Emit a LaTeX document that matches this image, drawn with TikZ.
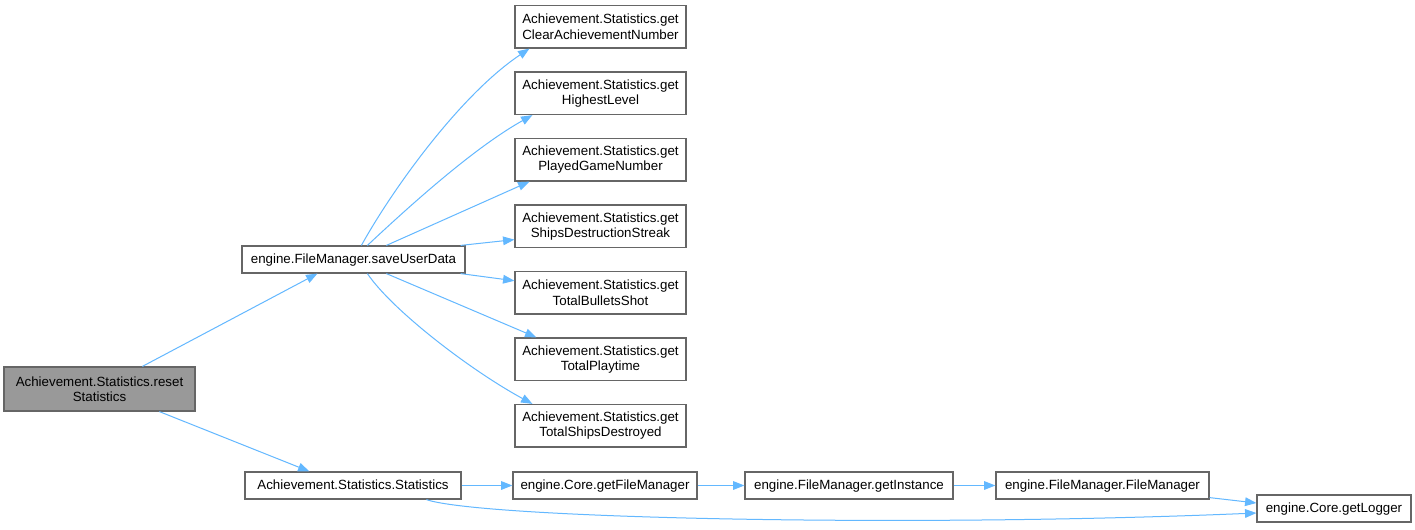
\documentclass[tikz,border=0pt]{standalone}
\usepackage{fontspec}
\setmainfont{Liberation Sans}
\usetikzlibrary{arrows.meta,calc}
\definecolor{edgeblue}{HTML}{63B8FF}
\definecolor{boxline}{HTML}{666666}
\definecolor{rootfill}{HTML}{999999}
\tikzset{
  box/.style={draw=boxline, fill=white, line width=0.9pt, inner sep=0pt, align=center,
    font=\fontsize{10}{11.5}\selectfont},
  twoline/.style={box, minimum width=128.25pt, minimum height=31.9pt},
  oneline/.style={box, minimum height=20.25pt, text height=7.2pt, text depth=1.8pt},
  conn/.style={draw=edgeblue, line width=0.75pt, -{Triangle[length=8.5pt,width=6.5pt]}}
}
\begin{document}
\begin{tikzpicture}[x=0.75pt,y=-0.75pt]
\useasboundingbox (0,0) rectangle (1415,529);
\fill[white] (0,0) rectangle (1415,529);
% nodes
\node[box, fill=rootfill, minimum width=143.25pt, minimum height=33pt] (reset) at (99.5,389) {Achievement.Statistics.reset\\Statistics};
\node[oneline, minimum width=167.25pt] (save) at (353.5,259.5) {engine.FileManager.saveUserData};
\node[twoline] (clear) at (600.5,26.75) {Achievement.Statistics.get\\ClearAchievementNumber};
\node[twoline] (high) at (600.5,93.25) {Achievement.Statistics.get\\HighestLevel};
\node[twoline] (played) at (600.5,159.75) {Achievement.Statistics.get\\PlayedGameNumber};
\node[twoline] (ships) at (600.5,226.25) {Achievement.Statistics.get\\ShipsDestructionStreak};
\node[twoline] (bullets) at (600.5,292.75) {Achievement.Statistics.get\\TotalBulletsShot};
\node[twoline] (playtime) at (600.5,359.25) {Achievement.Statistics.get\\TotalPlaytime};
\node[twoline] (destroyed) at (600.5,425.75) {Achievement.Statistics.get\\TotalShipsDestroyed};
\node[oneline, minimum width=162pt] (stat) at (353,485.5) {Achievement.Statistics.Statistics};
\node[oneline, minimum width=138pt] (getfm) at (605,485.5) {engine.Core.getFileManager};
\node[oneline, minimum width=156pt] (getinst) at (849,485.5) {engine.FileManager.getInstance};
\node[oneline, minimum width=159.75pt] (fm) at (1102.5,485.5) {engine.FileManager.FileManager};
\node[oneline, minimum width=115.5pt] (logger) at (1334,508.5) {engine.Core.getLogger};
% connectors
\draw[conn] ($(reset.north west)+(139,0)$) -- ($(save.south west)+(76,0)$);
\draw[conn] ($(reset.south west)+(156,0)$) -- ($(stat.north west)+(65,0)$);
\draw[conn] ($(save.north west)+(120,0)$) .. controls (392,190) and (460,95) .. ($(clear.south west)+(15,0)$);
\draw[conn] ($(save.north west)+(126,0)$) .. controls (400,215) and (470,150) .. ($(high.south west)+(18,0)$);
\draw[conn] ($(save.north west)+(145,0)$) -- ($(played.south west)+(15,0)$);
\draw[conn] ($(save.north east)+(-5,0)$) -- ($(ships.south west)+(0,-8.5)$);
\draw[conn] ($(save.south east)+(-5,0)$) -- ($(bullets.west)+(0,-12)$);
\draw[conn] ($(save.south west)+(145,0)$) -- ($(playtime.north west)+(22,0)$);
\draw[conn] ($(save.south west)+(126,0)$) .. controls (392,310) and (470,370) .. ($(destroyed.north west)+(18,0)$);
\draw[conn] (stat) -- (getfm);
\draw[conn] (getfm) -- (getinst);
\draw[conn] (getinst) -- (fm);
\draw[conn] ($(fm.south east)+(0,-2)$) -- ($(logger.west)+(0,-5.5)$);
\draw[conn] ($(stat.south west)+(182,0)$) .. controls (480,518) and (900,528) .. ($(logger.west)+(0,4.5)$);
\end{tikzpicture}
\end{document}
